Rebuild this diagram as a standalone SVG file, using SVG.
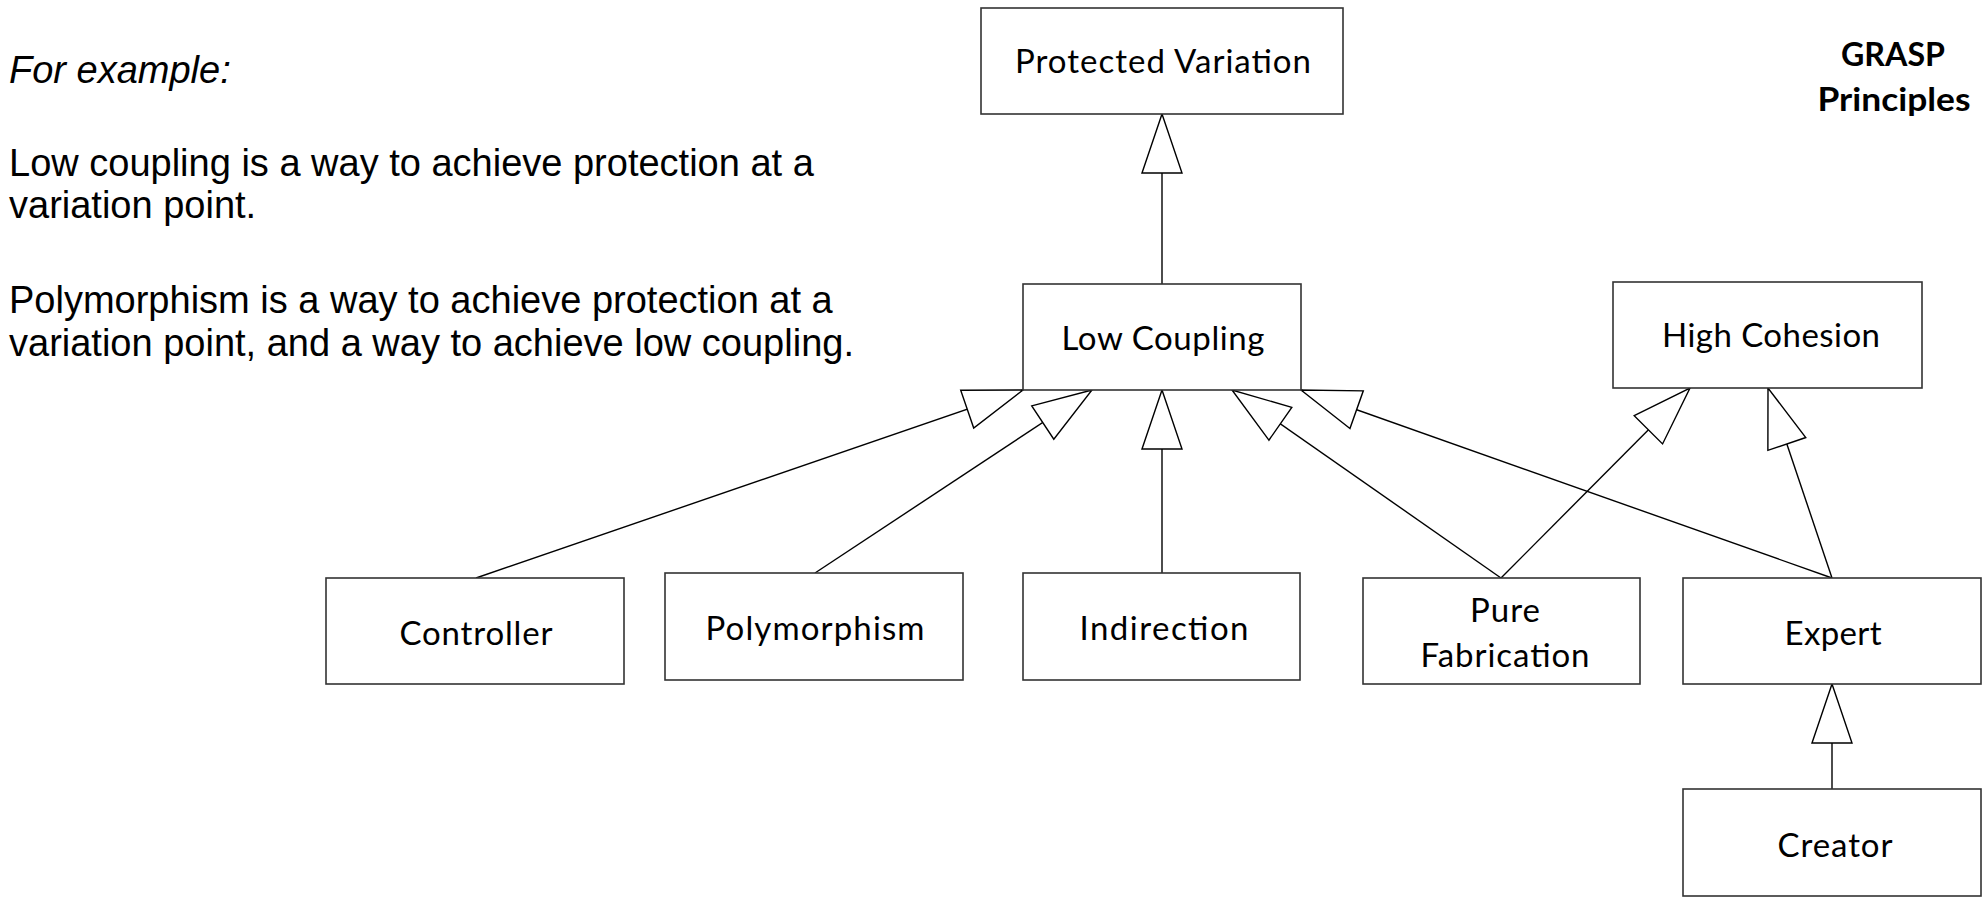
<svg xmlns="http://www.w3.org/2000/svg" width="1988" height="906" viewBox="0 0 1988 906">
  <style>
    .box { fill: #ffffff; stroke: #333333; stroke-width: 1.6; }
    .lbl { font-family: Lato, "Open Sans", "Liberation Sans", sans-serif; font-size: 33px; fill: #000000; text-anchor: middle; }
    .note { font-family: "Liberation Sans", Arial, sans-serif; font-size: 38px; fill: #000000; }
    .title { font-family: Lato, "Open Sans", "Liberation Sans", sans-serif; font-size: 32px; font-weight: bold; fill: #000000; text-anchor: middle; }
    .edge { fill: none; stroke: #000000; stroke-width: 1.4; marker-end: url(#gen); }
  </style>
  <defs>
    <marker id="gen" markerUnits="userSpaceOnUse" viewBox="0 0 59 40" refX="59" refY="20" markerWidth="59" markerHeight="40" orient="auto" overflow="visible">
      <path d="M0,0 L59,20 L0,40 Z" fill="#ffffff" stroke="#000000" stroke-width="1.4" stroke-linejoin="miter"/>
    </marker>
  </defs>
  <rect width="1988" height="906" fill="#ffffff"/>

  <g id="notes">
    <text class="note" x="9" y="83" font-style="italic">For example:</text>
    <text class="note" x="9" y="176">Low coupling is a way to achieve protection at a</text>
    <text class="note" x="9" y="218">variation point.</text>
    <text class="note" x="9" y="313">Polymorphism is a way to achieve protection at a</text>
    <text class="note" x="9" y="356">variation point, and a way to achieve low coupling.</text>
  </g>

  <g id="title">
    <text class="title" x="1893" y="66" textLength="104" lengthAdjust="spacingAndGlyphs">GRASP</text>
    <text class="title" x="1894" y="111" textLength="153" lengthAdjust="spacingAndGlyphs">Principles</text>
  </g>

  <g id="connectors">
    <line class="edge" x1="1162" y1="284" x2="1162" y2="114"/>
    <line class="edge" x1="476" y1="578" x2="1023" y2="390"/>
    <line class="edge" x1="815" y1="573" x2="1092" y2="390"/>
    <line class="edge" x1="1162" y1="573" x2="1162" y2="390"/>
    <line class="edge" x1="1501" y1="578" x2="1232" y2="390"/>
    <line class="edge" x1="1832" y1="578" x2="1301" y2="390"/>
    <line class="edge" x1="1501" y1="578" x2="1690" y2="388"/>
    <line class="edge" x1="1832" y1="578" x2="1768" y2="388"/>
    <line class="edge" x1="1832" y1="789" x2="1832" y2="684"/>
  </g>

  <g id="protected-variation">
    <rect class="box" x="981" y="8" width="362" height="106"/>
    <text class="lbl" x="1163" y="73" textLength="296" lengthAdjust="spacing">Protected Variation</text>
  </g>
  <g id="low-coupling">
    <rect class="box" x="1023" y="284" width="278" height="106"/>
    <text class="lbl" x="1163" y="350" textLength="203" lengthAdjust="spacing">Low Coupling</text>
  </g>
  <g id="high-cohesion">
    <rect class="box" x="1613" y="282" width="309" height="106"/>
    <text class="lbl" x="1771" y="347" textLength="218" lengthAdjust="spacing">High Cohesion</text>
  </g>
  <g id="controller">
    <rect class="box" x="326" y="578" width="298" height="106"/>
    <text class="lbl" x="476" y="645" textLength="153" lengthAdjust="spacing">Controller</text>
  </g>
  <g id="polymorphism">
    <rect class="box" x="665" y="573" width="298" height="107"/>
    <text class="lbl" x="815" y="640" textLength="219" lengthAdjust="spacing">Polymorphism</text>
  </g>
  <g id="indirection">
    <rect class="box" x="1023" y="573" width="277" height="107"/>
    <text class="lbl" x="1164" y="640" textLength="169" lengthAdjust="spacing">Indirection</text>
  </g>
  <g id="pure-fabrication">
    <rect class="box" x="1363" y="578" width="277" height="106"/>
    <text class="lbl" x="1505" y="622" textLength="70" lengthAdjust="spacing">Pure</text>
    <text class="lbl" x="1505" y="667" textLength="169" lengthAdjust="spacing">Fabrication</text>
  </g>
  <g id="expert">
    <rect class="box" x="1683" y="578" width="298" height="106"/>
    <text class="lbl" x="1833" y="645" textLength="97" lengthAdjust="spacing">Expert</text>
  </g>
  <g id="creator">
    <rect class="box" x="1683" y="789" width="298" height="107"/>
    <text class="lbl" x="1835" y="857" textLength="115" lengthAdjust="spacing">Creator</text>
  </g>
</svg>
